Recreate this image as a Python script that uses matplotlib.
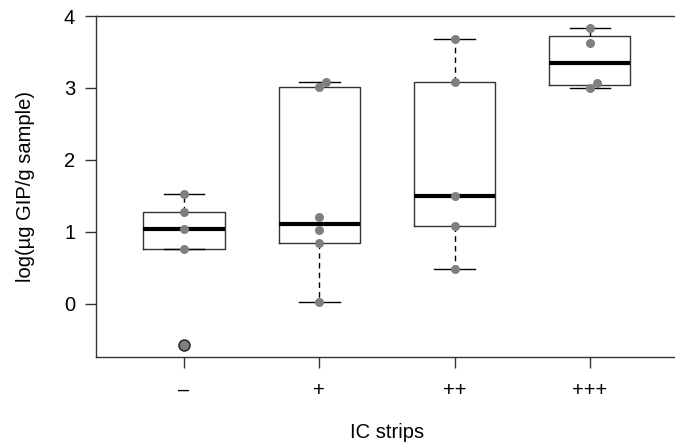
import numpy as np
import matplotlib.pyplot as plt

plt.rcParams['font.family'] = ['Liberation Sans', 'DejaVu Sans']

# 数据
groups = ['–', '+', '++', '+++']
values = [
    [-0.57, 0.76, 1.04, 1.27, 1.53],
    [0.02, 0.84, 1.02, 1.21, 3.02, 3.09],
    [0.49, 1.08, 1.50, 3.09, 3.68],
    [3.00, 3.07, 3.62, 3.83],
]
# 抖动
jitter = [
    [0, 0, 0, 0, 0],
    [0, 0, 0, 0, 0, 0.05],
    [0, 0, 0, 0, 0],
    [0, 0.05, 0, 0],
]


def fivenum(v):
    v = np.sort(np.asarray(v, dtype=float))
    n = len(v)
    n4 = np.floor((n + 3) / 2) / 2
    d = np.array([1, n4, (n + 1) / 2, n + 1 - n4, n]) - 1
    return 0.5 * (v[np.floor(d).astype(int)] + v[np.ceil(d).astype(int)])


stats = []
for name, v in zip(groups, values):
    mn, q1, med, q3, mx = fivenum(v)
    iqr = q3 - q1
    arr = np.array(v)
    inside = arr[(arr >= q1 - 1.5 * iqr) & (arr <= q3 + 1.5 * iqr)]
    fliers = arr[(arr < q1 - 1.5 * iqr) | (arr > q3 + 1.5 * iqr)]
    stats.append(dict(med=med, q1=q1, q3=q3, whislo=inside.min(),
                      whishi=inside.max(), fliers=fliers, label=name))

fig = plt.figure(figsize=(6.75, 4.46), dpi=100)
ax = fig.add_axes([0.1422, 0.1996, 0.862, 0.7644])

pos = np.arange(1, len(groups) + 1)
ax.bxp(stats, positions=pos, widths=0.6, showfliers=True,
       boxprops=dict(color='#333333', linewidth=1),
       medianprops=dict(color='black', linewidth=3, solid_capstyle='butt'),
       whiskerprops=dict(color='black', linewidth=1, linestyle=(0, (4, 3))),
       capprops=dict(color='black', linewidth=1),
       capwidths=0.3,
       flierprops=dict(marker='o', markerfacecolor='#666666',
                       markeredgecolor='#222222', markersize=8, markeredgewidth=1))

for p, v, j in zip(pos, values, jitter):
    ax.scatter(p + np.array(j), v, s=42, color='#7f7f7f', zorder=3, linewidths=0)

ax.set_xlim(0.35, 4.65)
ax.set_ylim(-0.74, 4.0)
ax.set_yticks([0, 1, 2, 3, 4])
ax.set_xticks(pos)
ax.set_xticklabels(groups)
ax.tick_params(axis='both', length=8, width=1, color='#333333', labelsize=14.5)
ax.tick_params(axis='y', pad=7)
ax.tick_params(axis='x', pad=9)
for s in ax.spines.values():
    s.set_color('#333333')
    s.set_linewidth(1)
ax.set_ylabel('log(µg GIP/g sample)', fontsize=14.5, labelpad=21)
ax.set_xlabel('IC strips', fontsize=14.5, labelpad=17)

fig.savefig('out.png', dpi=100)
